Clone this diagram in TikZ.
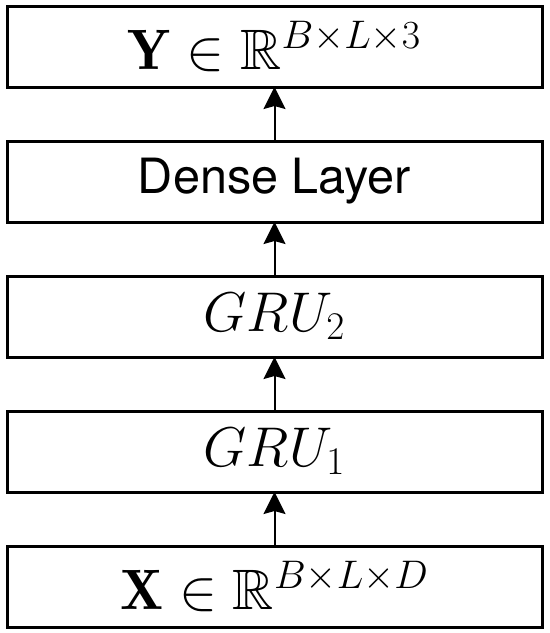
\RequirePackage{fix-cm}
\documentclass[tikz,border=0pt]{standalone}
\usepackage{amsmath}
\usepackage{amssymb}
\usepackage{fontspec}
\newfontfamily\helvfont{TeX Gyre Heros}
\usetikzlibrary{positioning}
\usetikzlibrary{arrows.meta}
\tikzset{layerbox/.style={draw, line width=1.5pt, minimum width=267.5pt, minimum height=40.5pt, inner sep=0pt, outer sep=0pt}}
\tikzset{flow/.style={-{Stealth[length=11pt,width=11pt,inset=1.5pt]}, line width=1pt}}

\begin{document}
\begin{tikzpicture}[x=0.5pt,y=-0.5pt,node distance=27pt]
\def \bigmath {\fontsize{28.5}{34}\selectfont}
\def \midmath {\fontsize{28}{34}\selectfont}
\useasboundingbox (0,0) rectangle (550,633);
\node[layerbox] (out) at (274.5,46.5) {\bigmath $\mathbf{Y}\in\mathbb{R}^{B\times L\times 3}$};
\node[layerbox, below=of out] (dense) {\helvfont\fontsize{24.3}{29}\selectfont Dense Layer};
\node[layerbox, below=of dense] (gru2) {\midmath $GRU_2$};
\node[layerbox, below=of gru2] (gru1) {\midmath $GRU_1$};
\node[layerbox, below=of gru1] (in) {\bigmath $\mathbf{X}\in\mathbb{R}^{B\times L\times D}$};
\foreach \a/\b in {in/gru1, gru1/gru2, gru2/dense, dense/out}
  \draw[flow] (\a) -- (\b);
\end{tikzpicture}
\end{document}
